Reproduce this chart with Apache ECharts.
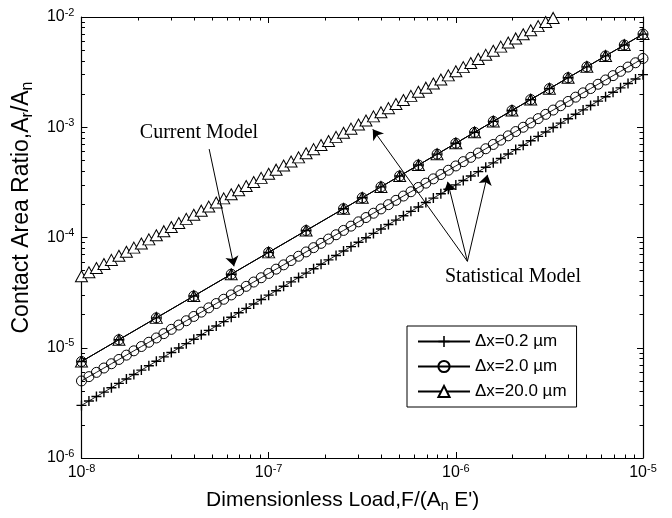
<!DOCTYPE html>
<html><head><meta charset="utf-8">
<script src="https://cdn.jsdelivr.net/npm/echarts@6/dist/echarts.min.js"></script>
<style>html,body{margin:0;padding:0;background:#fff}#c{width:672px;height:518px}</style>
</head><body><div id="c"></div>
<script>
// ---- data ----
const seriesNames = ['\u0394x=0.2 \u00b5m', '\u0394x=2.0 \u00b5m', '\u0394x=20.0 \u00b5m'];
const xTickExp = [-8, -7, -6, -5];
const yTickExp = [-6, -5, -4, -3, -2];
const xRange = [1e-8, 1e-5];
const yRange = [1e-6, 1e-2];

// Statistical model: dimensionless load
const loadStat = [
1.000e-8,1.096e-8,1.202e-8,1.318e-8,1.445e-8,1.585e-8,1.738e-8,1.905e-8,2.089e-8,2.291e-8,2.512e-8,2.754e-8,3.020e-8,3.311e-8,3.631e-8,3.981e-8,4.365e-8,4.786e-8,5.248e-8,5.754e-8,6.310e-8,6.918e-8,7.586e-8,8.318e-8,9.120e-8,
1.000e-7,1.096e-7,1.202e-7,1.318e-7,1.445e-7,1.585e-7,1.738e-7,1.905e-7,2.089e-7,2.291e-7,2.512e-7,2.754e-7,3.020e-7,3.311e-7,3.631e-7,3.981e-7,4.365e-7,4.786e-7,5.248e-7,5.754e-7,6.310e-7,6.918e-7,7.586e-7,8.318e-7,9.120e-7,
1.000e-6,1.096e-6,1.202e-6,1.318e-6,1.445e-6,1.585e-6,1.738e-6,1.905e-6,2.089e-6,2.291e-6,2.512e-6,2.754e-6,3.020e-6,3.311e-6,3.631e-6,3.981e-6,4.365e-6,4.786e-6,5.248e-6,5.754e-6,6.310e-6,6.918e-6,7.586e-6,8.318e-6,9.120e-6,
1.000e-5];
// Statistical model, dx = 0.2 um
const ratioStat02 = [
3.000e-6,3.290e-6,3.607e-6,3.955e-6,4.336e-6,4.755e-6,5.213e-6,5.717e-6,6.268e-6,6.873e-6,7.536e-6,8.263e-6,9.060e-6,9.934e-6,1.089e-5,1.194e-5,1.310e-5,1.436e-5,1.574e-5,1.726e-5,1.893e-5,2.075e-5,2.276e-5,2.495e-5,2.736e-5,
3.000e-5,3.290e-5,3.607e-5,3.955e-5,4.336e-5,4.755e-5,5.213e-5,5.717e-5,6.268e-5,6.873e-5,7.536e-5,8.263e-5,9.060e-5,9.934e-5,1.089e-4,1.194e-4,1.310e-4,1.436e-4,1.574e-4,1.726e-4,1.893e-4,2.075e-4,2.276e-4,2.495e-4,2.736e-4,
3.000e-4,3.290e-4,3.607e-4,3.955e-4,4.336e-4,4.755e-4,5.213e-4,5.717e-4,6.268e-4,6.873e-4,7.536e-4,8.263e-4,9.060e-4,9.934e-4,1.089e-3,1.194e-3,1.310e-3,1.436e-3,1.574e-3,1.726e-3,1.893e-3,2.075e-3,2.276e-3,2.495e-3,2.736e-3,
3.000e-3];
// Statistical model, dx = 2.0 um
const ratioStat2 = [
5.000e-6,5.470e-6,5.980e-6,6.550e-6,7.160e-6,7.830e-6,8.570e-6,9.380e-6,
1.026e-5,1.122e-5,1.227e-5,1.343e-5,1.469e-5,1.607e-5,1.758e-5,1.923e-5,2.104e-5,2.301e-5,2.518e-5,2.754e-5,3.013e-5,3.296e-5,3.606e-5,3.945e-5,4.315e-5,4.721e-5,5.164e-5,5.649e-5,6.180e-5,6.761e-5,7.396e-5,8.091e-5,8.851e-5,9.683e-5,
1.059e-4,1.159e-4,1.268e-4,1.387e-4,1.517e-4,1.660e-4,1.816e-4,1.986e-4,2.173e-4,2.377e-4,2.600e-4,2.844e-4,3.112e-4,3.404e-4,3.724e-4,4.074e-4,4.457e-4,4.875e-4,5.333e-4,5.834e-4,6.383e-4,6.982e-4,7.638e-4,8.356e-4,9.141e-4,
1.000e-3,1.094e-3,1.197e-3,1.309e-3,1.432e-3,1.567e-3,1.714e-3,1.875e-3,2.051e-3,2.244e-3,2.455e-3,2.685e-3,2.938e-3,3.214e-3,3.516e-3,3.846e-3,4.207e-3];
// Statistical model, dx = 20.0 um (ends where it leaves the plot top)
const loadStat20 = [
1.000e-8,1.096e-8,1.202e-8,1.318e-8,1.445e-8,1.585e-8,1.738e-8,1.905e-8,2.089e-8,2.291e-8,2.512e-8,2.754e-8,3.020e-8,3.311e-8,3.631e-8,3.981e-8,4.365e-8,4.786e-8,5.248e-8,5.754e-8,6.310e-8,6.918e-8,7.586e-8,8.318e-8,9.120e-8,
1.000e-7,1.096e-7,1.202e-7,1.318e-7,1.445e-7,1.585e-7,1.738e-7,1.905e-7,2.089e-7,2.291e-7,2.512e-7,2.754e-7,3.020e-7,3.311e-7,3.631e-7,3.981e-7,4.365e-7,4.786e-7,5.248e-7,5.754e-7,6.310e-7,6.918e-7,7.586e-7,8.318e-7,9.120e-7,
1.000e-6,1.096e-6,1.202e-6,1.318e-6,1.445e-6,1.585e-6,1.738e-6,1.905e-6,2.089e-6,2.291e-6,2.512e-6,2.754e-6,3.020e-6,3.311e-6];
const ratioStat20 = [
4.446e-5,4.845e-5,5.279e-5,5.750e-5,6.264e-5,6.823e-5,7.434e-5,8.097e-5,8.822e-5,9.612e-5,
1.047e-4,1.141e-4,1.243e-4,1.354e-4,1.475e-4,1.607e-4,1.751e-4,1.907e-4,2.078e-4,2.264e-4,2.466e-4,2.687e-4,2.927e-4,3.189e-4,3.474e-4,3.784e-4,4.123e-4,4.492e-4,4.894e-4,5.332e-4,5.808e-4,6.328e-4,6.893e-4,7.510e-4,8.181e-4,8.913e-4,9.710e-4,
1.058e-3,1.152e-3,1.255e-3,1.368e-3,1.490e-3,1.623e-3,1.768e-3,1.926e-3,2.099e-3,2.286e-3,2.491e-3,2.713e-3,2.956e-3,3.221e-3,3.509e-3,3.823e-3,4.165e-3,4.537e-3,4.943e-3,5.385e-3,5.867e-3,6.392e-3,6.963e-3,7.586e-3,8.265e-3,9.004e-3,9.808e-3];
// Current model (all three dx coincide)
const loadCurrent = [1.000e-8,1.585e-8,2.512e-8,3.981e-8,6.310e-8,1.000e-7,1.585e-7,2.512e-7,3.162e-7,3.981e-7,5.012e-7,6.310e-7,7.943e-7,1.000e-6,1.259e-6,1.585e-6,1.995e-6,2.512e-6,3.162e-6,3.981e-6,5.012e-6,6.310e-6,7.943e-6,1.000e-5];
const ratioCurrent = [7.500e-6,1.183e-5,1.866e-5,2.944e-5,4.645e-5,7.328e-5,1.156e-4,1.824e-4,2.291e-4,2.877e-4,3.614e-4,4.539e-4,5.702e-4,7.161e-4,8.995e-4,1.130e-3,1.419e-3,1.782e-3,2.239e-3,2.812e-3,3.532e-3,4.436e-3,5.572e-3,6.998e-3];

// annotation arrows (data coordinates): [from, to]
const arrowCurrent = [[4.81e-8, 6.34e-4], [6.53e-8, 5.48e-5]];
const arrowStatFrom = [1.153e-6, 6.08e-5];
const arrowStatTo = [[3.60e-7, 9.59e-4], [9.04e-7, 3.20e-4], [1.476e-6, 3.70e-4]];

// ---- chart ----
const SANS = '"Liberation Sans", Arial, sans-serif';
const SERIF = '"Liberation Serif", "Times New Roman", serif';
const pair = (xs, ys) => xs.map((x, i) => [x, ys[i]]);
const expLabel = v => '{b|10}{e|' + Math.round(Math.log10(v)) + '}';
const labelRich = { b: { fontSize: 16, lineHeight: 20, fontFamily: SANS, color: '#000' },
                    e: { fontSize: 11, lineHeight: 12, fontFamily: SANS, color: '#000', verticalAlign: 'top' } };
function minorLog(d0, d1) { const r = []; for (let d = d0; d < d1; d++) for (let m = 2; m <= 9; m++) r.push(d + Math.log10(m)); return r; }
const minorX = minorLog(xTickExp[0], xTickExp[xTickExp.length - 1]);
const minorY = minorLog(yTickExp[0], yTickExp[yTickExp.length - 1]);
const PLUS = 'path://M4.3,0 L5.7,0 L5.7,4.3 L10,4.3 L10,5.7 L5.7,5.7 L5.7,10 L4.3,10 L4.3,5.7 L0,5.7 L0,4.3 L4.3,4.3 Z';

const majorAxis = (pos, isX, extra) => Object.assign({
  type: 'log', min: isX ? xRange[0] : yRange[0], max: isX ? xRange[1] : yRange[1], position: pos,
  axisLine: { show: true, onZero: false, lineStyle: { color: '#000', width: 1.2 } },
  axisTick: { show: true, inside: true, length: 6, lineStyle: { color: '#000' } },
  splitLine: { show: false }, axisLabel: { show: false }
}, extra || {});
const minorAxis = (pos, isX) => ({
  type: 'value', min: isX ? xTickExp[0] : yTickExp[0], max: isX ? xTickExp[xTickExp.length - 1] : yTickExp[yTickExp.length - 1],
  position: pos, axisLine: { show: false, onZero: false },
  axisTick: { show: true, inside: true, length: 3.5, customValues: isX ? minorX : minorY, lineStyle: { color: '#000' } },
  axisLabel: { show: false }, splitLine: { show: false }
});

const statStyle = [
  { symbol: PLUS, symbolSize: 10, itemStyle: { color: '#000', borderWidth: 0 } },
  { symbol: 'circle', symbolSize: 10, itemStyle: { color: 'rgba(255,255,255,0)', borderColor: '#000', borderWidth: 1 } },
  { symbol: 'triangle', symbolSize: [12, 11], itemStyle: { color: '#fff', borderColor: '#000', borderWidth: 1 } }
];
function mk(name, data, st, extra) {
  return Object.assign({
    type: 'line', name: name, data: data, xAxisIndex: 0, yAxisIndex: 0,
    symbol: st.symbol, symbolSize: st.symbolSize, showSymbol: true, showAllSymbol: true,
    itemStyle: st.itemStyle, lineStyle: { color: '#000', width: 0.9 },
    emphasis: { disabled: true }, animation: false, z: 3
  }, extra || {});
}

const series = [
  mk(seriesNames[2], pair(loadStat20, ratioStat20), statStyle[2]),
  mk(seriesNames[1], pair(loadStat, ratioStat2), statStyle[1]),
  mk(seriesNames[0], pair(loadStat, ratioStat02), statStyle[0], {
    markLine: {
      silent: true, animation: false, symbol: ['none', 'arrow'], symbolSize: 10,
      label: { show: false }, emphasis: { disabled: true },
      lineStyle: { color: '#000', width: 1, type: 'solid' },
      data: [[{ coord: arrowCurrent[0] }, { coord: arrowCurrent[1] }]]
        .concat(arrowStatTo.map(t => [{ coord: arrowStatFrom }, { coord: t }]))
    }
  }),
  mk(seriesNames[2], pair(loadCurrent, ratioCurrent), statStyle[2], { z: 4 }),
  mk(seriesNames[1], pair(loadCurrent, ratioCurrent), statStyle[1], { z: 5 }),
  mk(seriesNames[0], pair(loadCurrent, ratioCurrent), statStyle[0], { z: 6 })
];

const chart = echarts.init(document.getElementById('c'));
chart.setOption({
  backgroundColor: '#fff',
  animation: false,
  grid: { left: 80, right: 29, top: 17, bottom: 57 },
  xAxis: [
    majorAxis('bottom', true, {
      axisLabel: { show: true, margin: 5, formatter: expLabel, rich: labelRich },
      name: 'Dimensionless Load,F/(A{s|n} E\')', nameLocation: 'middle', nameGap: 29,
      nameTextStyle: { fontSize: 21, fontFamily: SANS, color: '#000', lineHeight: 26, padding: [0, 39, 0, 0],
        rich: { s: { fontSize: 14, lineHeight: 14, fontFamily: SANS, color: '#000', verticalAlign: 'bottom' } } }
    }),
    minorAxis('bottom', true),
    majorAxis('top', true),
    minorAxis('top', true)
  ],
  yAxis: [
    majorAxis('left', false, {
      axisLabel: { show: true, margin: 7, formatter: expLabel, rich: labelRich },
      name: 'Contact Area Ratio,A{s|r}/A{s|n}', nameLocation: 'middle', nameGap: 41, nameRotate: 90,
      nameTextStyle: { fontSize: 23, fontFamily: SANS, color: '#000', lineHeight: 28, padding: [0, 0, 0, 60],
        rich: { s: { fontSize: 16, lineHeight: 16, fontFamily: SANS, color: '#000', verticalAlign: 'bottom' } } }
    }),
    minorAxis('left', false),
    majorAxis('right', false),
    minorAxis('right', false)
  ],
  legend: {
    data: seriesNames, orient: 'vertical', left: 407, top: 326,
    backgroundColor: '#fff', borderColor: '#000', borderWidth: 1, borderRadius: 0,
    padding: [7, 10, 7, 10], itemWidth: 52, itemHeight: 14, itemGap: 8,
    selectedMode: false, textStyle: { fontSize: 17, fontFamily: SANS, color: '#000' }
  },
  graphic: [
    { type: 'text', x: 199, y: 133, style: { text: 'Current Model', font: '20px ' + SERIF, fill: '#000', align: 'center', verticalAlign: 'middle' } },
    { type: 'text', x: 513, y: 277, style: { text: 'Statistical Model', font: '20px ' + SERIF, fill: '#000', align: 'center', verticalAlign: 'middle' } }
  ],
  series: series
});
</script>
</body></html>
